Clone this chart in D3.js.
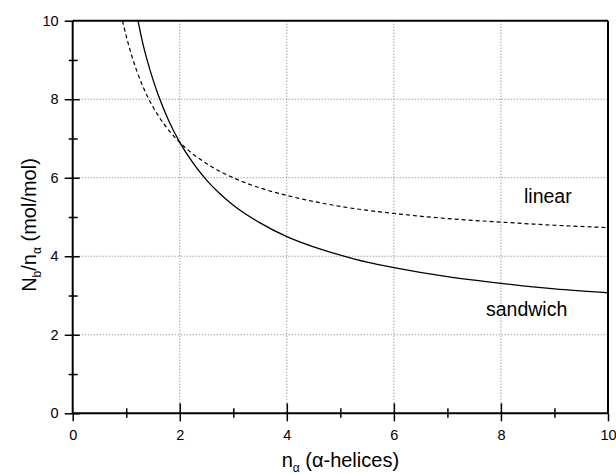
<!DOCTYPE html>
<html>
<head>
<meta charset="utf-8">
<script src="https://cdn.jsdelivr.net/npm/d3@7"></script>
<style>
  body { margin: 0; background: #fff; }
  svg { display: block; font-family: "Liberation Sans", Arial, sans-serif; }
</style>
</head>
<body>
<div id="chart"></div>
<script>
// Data (n_alpha, Nb/n_alpha)
const sandwichX = [1.22, 1.3, 1.4, 1.5, 1.6, 1.8, 2, 2.25, 2.5, 2.75, 3, 3.5, 4, 4.5, 5, 5.5, 6, 7, 8, 9, 10];
const sandwichY = [10, 9.48, 8.95, 8.5, 8.1, 7.43, 6.9, 6.37, 5.94, 5.59, 5.3, 4.85, 4.5, 4.24, 4.03, 3.85, 3.71, 3.48, 3.31, 3.17, 3.07];

const linearX = [0.93, 1.0, 1.1, 1.2, 1.4, 1.6, 1.8, 2, 2.25, 2.5, 3, 3.5, 4, 5, 6, 7, 8, 9, 10];
const linearY = [10, 9.61, 9.12, 8.71, 8.06, 7.58, 7.2, 6.9, 6.6, 6.36, 6.0, 5.74, 5.55, 5.27, 5.09, 4.96, 4.87, 4.79, 4.73];

const majorTicks = [0, 2, 4, 6, 8, 10];
const minorTicks = [1, 3, 5, 7, 9];
const gridTicks = [2, 4, 6, 8];

/************************************
 * Draw the chart
 ************************************/
const w = 616;
const h = 474;
const pLeft = 72.7, pRight = 608, pTop = 20.7, pBottom = 413.3;

const xScale = d3.scaleLinear().domain([0, 10]).range([pLeft, pRight]);
const yScale = d3.scaleLinear().domain([0, 10]).range([pBottom, pTop]);

const svg = d3.select("#chart")
  .append("svg")
  .attr("width", w)
  .attr("height", h);

// grid
svg.append("g")
  .selectAll("line")
  .data(gridTicks)
  .enter()
  .append("line")
  .attr("x1", d => xScale(d)).attr("x2", d => xScale(d))
  .attr("y1", pTop).attr("y2", pBottom)
  .attr("stroke", "#777").attr("stroke-width", 1).attr("stroke-dasharray", "1,2");

svg.append("g")
  .selectAll("line")
  .data(gridTicks)
  .enter()
  .append("line")
  .attr("x1", pLeft).attr("x2", pRight)
  .attr("y1", d => yScale(d)).attr("y2", d => yScale(d))
  .attr("stroke", "#777").attr("stroke-width", 1).attr("stroke-dasharray", "1,2");

// curves
const line = d3.line()
  .x(d => xScale(d[0]))
  .y(d => yScale(d[1]))
  .curve(d3.curveMonotoneX);

svg.append("path")
  .datum(sandwichX.map((x, i) => [x, sandwichY[i]]))
  .attr("d", line)
  .attr("fill", "none")
  .attr("stroke", "#000")
  .attr("stroke-width", 1.3);

svg.append("path")
  .datum(linearX.map((x, i) => [x, linearY[i]]))
  .attr("d", line)
  .attr("fill", "none")
  .attr("stroke", "#000")
  .attr("stroke-width", 1.2)
  .attr("stroke-dasharray", "4,3");

// frame (top and right)
svg.append("line")
  .attr("x1", pLeft).attr("x2", pRight).attr("y1", pTop).attr("y2", pTop)
  .attr("stroke", "#000").attr("stroke-width", 2);
svg.append("line")
  .attr("x1", pRight).attr("x2", pRight).attr("y1", pTop).attr("y2", pBottom)
  .attr("stroke", "#000").attr("stroke-width", 2);

// axes
const styleAxis = (g) => {
  g.select(".domain").remove();
  g.selectAll("line").attr("stroke", "#000").attr("stroke-width", 1.5);
  g.selectAll("text")
    .attr("fill", "#000")
    .style("font-size", "14.5px");
};

const yAxis = svg.append("g")
  .attr("transform", "translate(" + pLeft + ",0)")
  .call(d3.axisLeft(yScale).tickValues(majorTicks).tickSize(8).tickPadding(6).tickFormat(d3.format("d")));
styleAxis(yAxis);
yAxis.selectAll(".tick line").attr("x1", d => d === 10 ? 0 : 7);

const yMinor = svg.append("g")
  .attr("transform", "translate(" + pLeft + ",0)")
  .call(d3.axisLeft(yScale).tickValues(minorTicks).tickSize(4).tickFormat(""));
styleAxis(yMinor);
yMinor.selectAll(".tick line").attr("x1", 5);

const xAxis = svg.append("g")
  .attr("transform", "translate(0," + pBottom + ")")
  .call(d3.axisBottom(xScale).tickValues(majorTicks).tickSize(8).tickPadding(8).tickFormat(d3.format("d")));
styleAxis(xAxis);
xAxis.selectAll(".tick line").attr("y1", d => (d === 0 || d === 10) ? 0 : -10);

const xMinor = svg.append("g")
  .attr("transform", "translate(0," + pBottom + ")")
  .call(d3.axisBottom(xScale).tickValues(minorTicks).tickSize(4.5).tickFormat(""));
styleAxis(xMinor);
xMinor.selectAll(".tick line").attr("y1", -5);

// axis lines (left and bottom)
svg.append("line")
  .attr("x1", pLeft).attr("x2", pLeft).attr("y1", pTop).attr("y2", pBottom)
  .attr("stroke", "#000").attr("stroke-width", 2);
svg.append("line")
  .attr("x1", pLeft).attr("x2", pRight).attr("y1", pBottom).attr("y2", pBottom)
  .attr("stroke", "#000").attr("stroke-width", 2);

// axis titles
const xTitle = svg.append("text")
  .attr("x", (pLeft + pRight) / 2)
  .attr("y", 466.5)
  .attr("text-anchor", "middle")
  .style("font-size", "20px");
xTitle.append("tspan").text("n");
xTitle.append("tspan").attr("dy", 5).style("font-size", "12px").text("α");
xTitle.append("tspan").attr("dy", -5).text(" (α-helices)");

const yTitle = svg.append("text")
  .attr("transform", "translate(35.5,225) rotate(-90)")
  .attr("text-anchor", "middle")
  .style("font-size", "20px");
yTitle.append("tspan").text("N");
yTitle.append("tspan").attr("dy", 5).style("font-size", "12px").text("b");
yTitle.append("tspan").attr("dy", -5).text("/n");
yTitle.append("tspan").attr("dy", 5).style("font-size", "12px").text("α");
yTitle.append("tspan").attr("dy", -5).text(" (mol/mol)");

// curve labels
svg.append("text")
  .attr("x", 524).attr("y", 203)
  .style("font-size", "19.5px")
  .text("linear");

svg.append("text")
  .attr("x", 486).attr("y", 316)
  .style("font-size", "19.5px")
  .text("sandwich");
</script>
</body>
</html>
